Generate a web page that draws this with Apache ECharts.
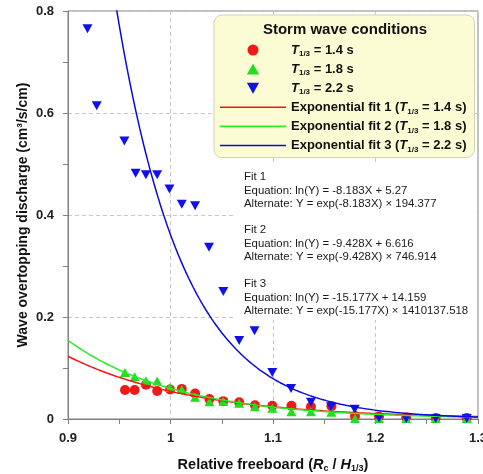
<!DOCTYPE html>
<html>
<head>
<meta charset="utf-8">
<script src="https://cdn.jsdelivr.net/npm/echarts/dist/echarts.min.js"></script>
<style>
  html, body { margin: 0; padding: 0; background: #fff; }
  #main { width: 483px; height: 474px; }
</style>
</head>
<body>
<div id="main"></div>
<script>
// measured points (relative freeboard, discharge)
const xRedGreen = [0.9556, 0.965, 0.976, 0.987, 0.9995, 1.011, 1.024, 1.038, 1.0515, 1.067,
  1.0824, 1.0993, 1.118, 1.137, 1.157, 1.18, 1.2034, 1.23, 1.2587, 1.289];
const yRed = [0.057, 0.057, 0.067, 0.055, 0.058, 0.059, 0.050, 0.039, 0.035, 0.033,
  0.027, 0.026, 0.026, 0.024, 0.025, 0.006, 0.005, 0.003, 0.002, 0.002];
const yGreen = [0.091, 0.083, 0.075, 0.0745, 0.062, 0.058, 0.0425, 0.034, 0.035, 0.031,
  0.024, 0.021, 0.014, 0.014, 0.013, 0.001, 0.001, 0.001, 0.001, 0.001];
const xBlue = [0.919, 0.928, 0.955, 0.966, 0.976, 0.987, 0.999, 1.011, 1.024, 1.0376, 1.0515,
  1.067, 1.082, 1.0993, 1.1176, 1.137, 1.1566, 1.1797, 1.2034, 1.23, 1.2587, 1.289];
const yBlue = [0.765, 0.614, 0.545, 0.482, 0.479, 0.479, 0.451, 0.421, 0.418, 0.337, 0.25,
  0.154, 0.173, 0.091, 0.060, 0.033, 0.024, 0.019, 0.002, 0.001, 0.001, 0.001];

// exponential fits as printed on the chart: Y = exp(slope * X) * scale
const fitSlope = [-8.183, -9.428, -15.177];
const fitScale = [194.377, 746.914, 1410137.518];

const scatterNames = ["T1/3 = 1.4 s", "T1/3 = 1.8 s", "T1/3 = 2.2 s"];
const fitNames = ["Exponential fit 1 (T1/3 = 1.4 s)", "Exponential fit 2 (T1/3 = 1.8 s)", "Exponential fit 3 (T1/3 = 2.2 s)"];
const fitTexts = [
  ["Fit 1", "Equation: ln(Y) = -8.183X + 5.27", "Alternate: Y = exp(-8.183X) \u00d7 194.377"],
  ["Fit 2", "Equation: ln(Y) = -9.428X + 6.616", "Alternate: Y = exp(-9.428X) \u00d7 746.914"],
  ["Fit 3", "Equation: ln(Y) = -15.177X + 14.159", "Alternate: Y = exp(-15.177X) \u00d7 1410137.518"]
];

const FONT = "'Liberation Sans', Arial, sans-serif";
const pairs = (xs, ys) => xs.map((x, i) => [x, ys[i]]);

function fitCurve(k) {
  const pts = [];
  for (let i = 0; i <= 200; i++) {
    const x = 0.9 + i * 0.002;
    pts.push([x, Math.exp(fitSlope[k] * x) * fitScale[k]]);
  }
  return pts;
}

// legend label with italic T and subscript 1/3
function richName(name) {
  const parts = name.split("T1/3");
  let s = "";
  if (parts[0]) s += "{b|" + parts[0] + "}";
  s += "{i|T}{s|1/3}{b|" + parts[1] + "}";
  return s;
}

const rich = {
  b: { fontFamily: FONT, fontWeight: "bold", fontSize: 13, color: "#111", lineHeight: 16 },
  i: { fontFamily: FONT, fontWeight: "bold", fontStyle: "italic", fontSize: 13, color: "#111", lineHeight: 16 },
  s: { fontFamily: FONT, fontWeight: "bold", fontSize: 8, color: "#111", lineHeight: 10, verticalAlign: "bottom" }
};

// legend icons (keep aspect so triangles are not stretched)
const triUp = "path://M5,0 L10,9 L0,9 Z";
const triDown = "path://M0,0 L10,0 L5,9 Z";
const lineIcon = "path://M0,0 L66,0 L66,1.6 L0,1.6 Z";

const chart = echarts.init(document.getElementById("main"));

const graphics = [
  { type: "rect", z: 1, shape: { x: 236, y: 162, width: 241, height: 158 }, style: { fill: "#fff" } },
  { type: "text", z: 100, x: 345, y: 30,
    style: { text: "Storm wave conditions", font: "bold 15px " + FONT, fill: "#111",
      align: "center", verticalAlign: "middle", textAlign: "center", textVerticalAlign: "middle" } }
];
const blockTop = [177, 230, 284];
fitTexts.forEach((lines, k) => {
  lines.forEach((t, j) => {
    graphics.push({ type: "text", z: 100, x: 244, y: blockTop[k] + j * 13.5,
      style: { text: t, font: "11.4px " + FONT, fill: "#1a1a1a", verticalAlign: "middle", textVerticalAlign: "middle" } });
  });
});

const option = {
  animation: false,
  grid: { left: 68, right: 5, top: 11, bottom: 55, show: true, borderColor: "#808080", borderWidth: 1,
    containLabel: false, outerBoundsMode: "none" },
  xAxis: {
    type: "value", min: 0.9, max: 1.3, interval: 0.1,
    name: "Relative freeboard ({i|R}{s|c} / {i|H}{s|1/3})",
    nameLocation: "middle", nameGap: 37, nameMoveOverlap: false,
    nameTextStyle: {
      fontFamily: FONT, fontWeight: "bold", fontSize: 14.5, color: "#111",
      rich: {
        i: { fontFamily: FONT, fontWeight: "bold", fontStyle: "italic", fontSize: 14.5, color: "#111", lineHeight: 17 },
        s: { fontFamily: FONT, fontWeight: "bold", fontSize: 9, color: "#111", lineHeight: 11, verticalAlign: "bottom" }
      }
    },
    axisLine: { show: true, lineStyle: { color: "#808080" } },
    axisTick: { show: true, length: 5, lineStyle: { color: "#808080" } },
    minorTick: { show: true, splitNumber: 2, length: 5, lineStyle: { color: "#808080" } },
    axisLabel: { margin: 13, fontFamily: FONT, fontWeight: "bold", fontSize: 13, color: "#222" },
    splitLine: { show: true, lineStyle: { color: "#c8c8c8", type: [4, 3] } }
  },
  yAxis: {
    type: "value", min: 0, max: 0.8, interval: 0.2,
    name: "Wave overtopping discharge (cm\u00b3/s/cm)",
    nameLocation: "middle", nameGap: 38, nameMoveOverlap: false,
    nameTextStyle: { fontFamily: FONT, fontWeight: "bold", fontSize: 14, color: "#111" },
    axisLine: { show: true, onZero: false, lineStyle: { color: "#808080" } },
    axisTick: { show: true, length: 5, lineStyle: { color: "#808080" } },
    minorTick: { show: true, splitNumber: 2, length: 5, lineStyle: { color: "#808080" } },
    axisLabel: { margin: 14, fontFamily: FONT, fontWeight: "bold", fontSize: 13, color: "#222" },
    splitLine: { show: true, lineStyle: { color: "#c8c8c8", type: [4, 3] } }
  },
  legend: {
    orient: "vertical", left: 214, top: 15,
    itemWidth: 66, itemHeight: 11, itemGap: 4.6,
    padding: [28.5, 8, 4, 6],
    backgroundColor: "#fcfcd4", borderColor: "#d2d2b4", borderWidth: 1, borderRadius: 8,
    data: [
      { name: scatterNames[0], icon: "circle" },
      { name: scatterNames[1], icon: triUp },
      { name: scatterNames[2], icon: triDown },
      { name: fitNames[0], icon: lineIcon },
      { name: fitNames[1], icon: lineIcon },
      { name: fitNames[2], icon: lineIcon }
    ],
    formatter: richName,
    textStyle: { rich: rich }
  },
  graphic: graphics,
  series: [
    { name: scatterNames[0], type: "scatter", symbol: "circle", symbolSize: 10,
      itemStyle: { color: "#f01818", opacity: 1 }, data: pairs(xRedGreen, yRed) },
    { name: scatterNames[1], type: "scatter", symbol: "triangle", symbolSize: [10, 9],
      itemStyle: { color: "#22dd22", opacity: 1 }, data: pairs(xRedGreen, yGreen) },
    { name: scatterNames[2], type: "scatter", symbol: "triangle", symbolRotate: 180, symbolSize: [10, 9],
      itemStyle: { color: "#1010e8", opacity: 1 }, data: pairs(xBlue, yBlue) },
    { name: fitNames[0], type: "line", symbol: "none", clip: true,
      lineStyle: { color: "#ff1010", width: 1.5 }, itemStyle: { color: "#ff1010" }, data: fitCurve(0) },
    { name: fitNames[1], type: "line", symbol: "none", clip: true,
      lineStyle: { color: "#22ee22", width: 1.5 }, itemStyle: { color: "#22ee22" }, data: fitCurve(1) },
    { name: fitNames[2], type: "line", symbol: "none", clip: true,
      lineStyle: { color: "#0a0ae0", width: 1.5 }, itemStyle: { color: "#0a0ae0" }, data: fitCurve(2) }
  ]
};

chart.setOption(option);
</script>
</body>
</html>
